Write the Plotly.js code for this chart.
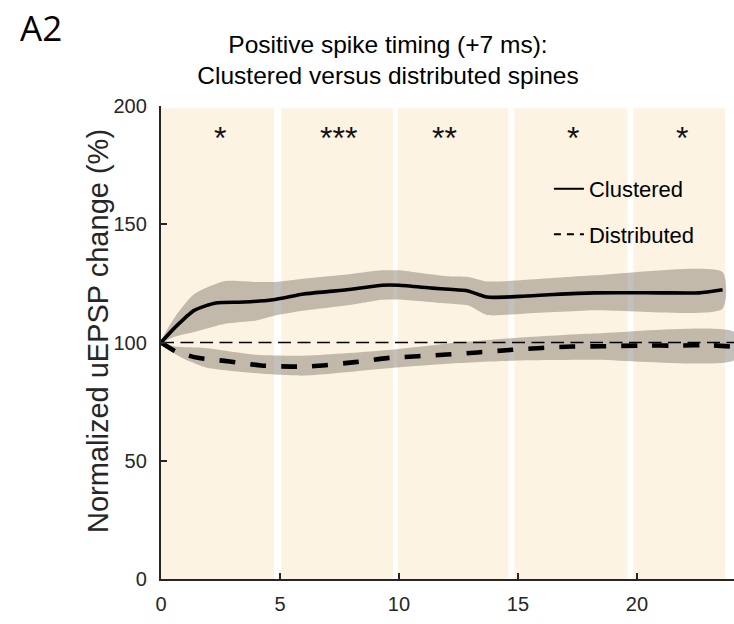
<!DOCTYPE html>
<html>
<head>
<meta charset="utf-8">
<script src="https://cdn.plot.ly/plotly-3.0.1.min.js"></script>
<style>html,body{margin:0;padding:0;background:#fff;}#chart{width:734px;height:624px;}</style>
</head>
<body>
<div id="chart"></div>
<script>
// ---- data ----
const clusteredX = [0, 0.6, 1.4, 2.3, 3.5, 4.7, 6, 7, 8, 9.3, 10, 11.4, 12.1, 12.9, 13.7, 15.1, 16.5, 18.2, 21, 22.6, 23.6];
const clusteredY = [100, 106.5, 113.6, 116.7, 117.1, 118.1, 120.5, 121.5, 122.5, 124.2, 124.2, 123, 122.5, 121.8, 119.2, 119.5, 120.3, 121, 121, 121, 122.3];
const clusteredBandX = [0, 0.6, 1.4, 2.7, 4, 4.8, 6, 8, 9.3, 10, 12, 12.9, 13.7, 15.1, 18.2, 23.6];
const clusteredUpper = [100, 111, 120.5, 126, 125.6, 125.6, 127, 129, 130.5, 130.5, 128, 127.7, 125.8, 126.3, 128.4, 129.8];
const clusteredLower = [100, 102.5, 104.4, 107.9, 109.3, 111.4, 113.5, 116, 118.1, 118.2, 116.5, 115.7, 111.6, 112.1, 113.6, 114.3];

const distributedX = [0, 0.6, 1.55, 2.8, 4.2, 5.5, 6.1, 6.8, 8.15, 9.5, 10.8, 12, 13.3, 14.75, 16, 17.3, 18.6, 20.1, 21.8, 23, 24.1];
const distributedY = [100, 96.3, 93.5, 92.1, 90.3, 89.8, 89.8, 90.3, 91.7, 93.4, 94.2, 94.9, 95.8, 96.9, 97.7, 98.3, 98.4, 98.7, 98.7, 98.9, 98.2];
const distributedBandX = [0, 0.6, 1.85, 4, 6, 9.3, 12, 15, 18.2, 24.1];
const distributedUpper = [100, 98.3, 97.7, 94.8, 94.4, 96.6, 99.5, 102, 103.8, 104.4];
const distributedLower = [100, 95, 89.5, 87, 86, 88.9, 91, 92.4, 92.7, 92.7];

const baselineX = [0, 24.1];
const baselineY = [100, 100];

const epochStart = [0, 5.05, 9.95, 14.85, 19.85];
const epochEnd = [4.75, 9.75, 14.6, 19.6, 23.7];
const epochTop = 199;

const starX = [2.47, 7.44, 11.9, 17.3, 21.9];
const starText = ['*', '***', '**', '*', '*'];
const starY = 186.5;

const xTicks = [0, 5, 10, 15, 20];
const yTicks = [0, 50, 100, 150, 200];

// ---- build ----
const bandColor = 'rgba(128,118,108,0.47)';
const font = 'Liberation Sans, Arial, sans-serif';

function bandTrace(x, up, lo) {
  return {
    x: x.concat(x.slice().reverse()),
    y: up.concat(lo.slice().reverse()),
    fill: 'toself', fillcolor: bandColor, mode: 'lines',
    line: {width: 0, shape: 'spline', smoothing: 0.6},
    hoverinfo: 'skip', showlegend: false
  };
}

const traces = [
  bandTrace(clusteredBandX, clusteredUpper, clusteredLower),
  bandTrace(distributedBandX, distributedUpper, distributedLower),
  {x: baselineX, y: baselineY, mode: 'lines', line: {color: '#000', width: 1.6, dash: '13px,6.5px'}, showlegend: false, hoverinfo: 'skip'},
  {x: clusteredX, y: clusteredY, mode: 'lines', line: {color: '#000', width: 3.6, shape: 'spline', smoothing: 0.6}, showlegend: false},
  {x: distributedX, y: distributedY, mode: 'lines', line: {color: '#000', width: 4.6, shape: 'spline', smoothing: 0.6, dash: '16px,15px'}, showlegend: false},
  {x: [null], y: [null], mode: 'lines', name: 'Clustered', legendgroup: 'a', line: {color: '#000', width: 2}},
  {x: [null], y: [null], mode: 'lines', name: 'Distributed', legendgroup: 'b', line: {color: '#000', width: 2, dash: '7px,6px'}}
];

const shapes = epochStart.map((s, i) => ({
  type: 'rect', xref: 'x', yref: 'y', x0: s, x1: epochEnd[i], y0: 0, y1: epochTop,
  fillcolor: '#fdf3e3', line: {width: 0}, layer: 'below'
}));

const annotations = starX.map((x, i) => ({
  x: x, y: starY, xref: 'x', yref: 'y', text: starText[i], showarrow: false,
  font: {family: font, size: 32, color: '#111'}
}));
// panel label (plot area: left 161, top 106, width 573, height 473)
annotations.push({
  x: (41 - 161) / 573, y: (579 - 27) / 473, xref: 'paper', yref: 'paper', text: 'A2', showarrow: false,
  xanchor: 'center', yanchor: 'middle',
  font: {family: 'Open Sans, Noto Sans, sans-serif', size: 35, color: '#000'}
});
// y axis title
annotations.push({
  x: (98 - 161) / 573, y: (579 - 331) / 473, xref: 'paper', yref: 'paper',
  text: 'Normalized uEPSP change (%)', textangle: -90, showarrow: false,
  xanchor: 'center', yanchor: 'middle',
  font: {family: font, size: 29, color: '#262626'}
});

const layout = {
  width: 734, height: 624,
  margin: {l: 161, r: 0, t: 106, b: 45},
  paper_bgcolor: '#fff', plot_bgcolor: '#fff',
  font: {family: font, color: '#262626'},
  title: {
    text: 'Positive spike timing (+7 ms):<br>Clustered versus distributed spines',
    x: 388 / 734, xref: 'container', xanchor: 'center',
    y: 1 - 52.5 / 624, yref: 'container', yanchor: 'middle',
    font: {family: font, size: 24.5, color: '#000'}
  },
  xaxis: {
    range: [0, 24.08], showgrid: false, zeroline: false,
    showline: true, linecolor: '#262626', linewidth: 2.2,
    ticks: 'inside', ticklen: 6, tickwidth: 2, tickcolor: '#262626',
    tickvals: xTicks, ticktext: xTicks.map(String),
    tickfont: {family: font, size: 20, color: '#262626'},
    ticklabelstandoff: 6
  },
  yaxis: {
    range: [0, 200], showgrid: false, zeroline: false,
    showline: true, linecolor: '#262626', linewidth: 2.2,
    ticks: 'inside', ticklen: 6, tickwidth: 2, tickcolor: '#262626',
    tickvals: yTicks, ticktext: yTicks.map(String),
    tickfont: {family: font, size: 20, color: '#262626'},
    ticklabelstandoff: 8
  },
  legend: {
    x: 0.677, y: 0.869, xanchor: 'left', yanchor: 'top',
    bgcolor: 'rgba(0,0,0,0)', font: {family: font, size: 22, color: '#000'},
    traceorder: 'grouped', tracegroupgap: 14
  },
  shapes: shapes,
  annotations: annotations,
  showlegend: true
};

Plotly.newPlot('chart', traces, layout, {displayModeBar: false, staticPlot: true});
</script>
</body>
</html>
